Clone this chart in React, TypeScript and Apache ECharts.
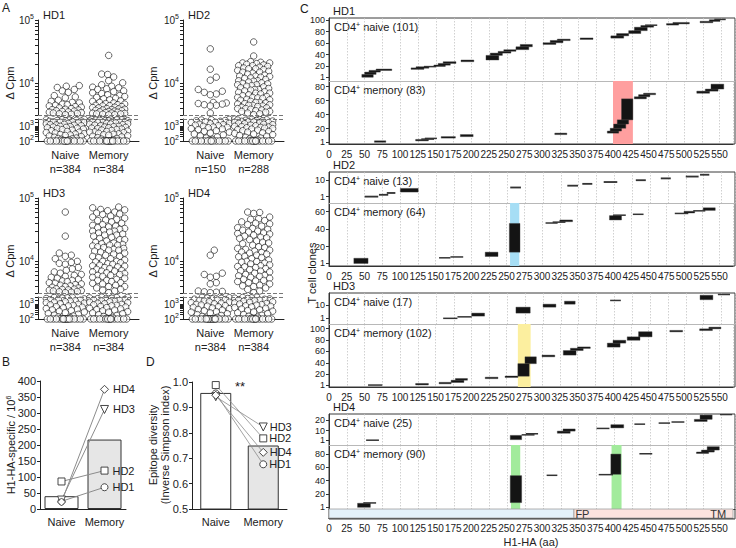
import React, { useEffect, useRef } from 'react';
import * as echarts from 'echarts';

const FONT = "'Liberation Sans', Arial, Helvetica, sans-serif";

// ---------------- Panel A: ΔCpm per well ----------------
const hd1Naive = [
  9200, 9000, 8600, 8000, 7600, 7200, 6400, 6100, 5900, 5400, 5200, 5000, 4900, 4700, 4600, 4500, 4400, 4300, 4200, 4100,
  4000, 3900, 3850, 3800, 3700, 3650, 3600, 3550, 3500, 3450, 3400, 3350, 3300, 3250, 3200,
  3000, 2900, 2800, 2700, 2600, 2500, 2400, 2300, 2200, 2100, 2000, 1900, 1800, 1700, 1600, 1500, 1400, 1300, 1250, 1200,
  1100, 1000, 950, 900, 850, 800, 750, 700, 650, 600, 550, 500, 450, 400, 380, 350, 320, 300, 280, 260, 240, 220, 200,
  180, 160, 150, 140, 130, 120, 110,
  100, 100, 100, 100, 100, 100, 100, 100, 100, 100, 100, 100, 100, 100, 100, 100,
];
const hd1Memory = [
  27600, 14000, 13800, 12600, 11000, 10200, 9500, 9000, 8700, 8500, 8200, 8000, 7600, 7400, 7100, 6900, 6600, 6400, 6200, 6000,
  5800, 5700, 5500, 5300, 5200, 5000, 4900, 4800, 4700, 4600, 4500, 4450, 4400, 4300, 4200, 4150, 4100, 4000, 3950, 3900,
  3850, 3800, 3750, 3700, 3650, 3600, 3550, 3500, 3450, 3400, 3380, 3350, 3300, 3280, 3250, 3200, 3180,
  3100, 3000, 2900, 2850, 2800, 2700, 2600, 2500, 2450, 2400, 2300, 2200, 2100, 2000, 1900, 1850, 1800, 1700, 1600, 1500,
  1450, 1400, 1300, 1200, 1100, 1000, 950, 900, 850, 800, 750, 700, 650, 600, 560, 520, 480, 450, 420, 400, 370, 340, 310,
  290, 270, 250, 230, 210, 190, 170, 150, 135, 120, 110,
  100, 100, 100, 100, 100, 100, 100, 100, 100, 100, 100, 100, 100, 100, 100, 100, 100, 100,
];
const hd2Naive = [
  35000, 16700, 12500, 11200, 8000, 7500, 7200, 6800, 6600, 5000, 4900, 4800, 4700, 4600, 4500, 4400, 3400,
  3000, 2800, 2700, 2500, 2400, 2200, 2000, 1900, 1800, 1600, 1500, 1400, 1300, 1200, 1100, 1000, 900, 850, 800, 700,
  650, 600, 500, 450, 400, 350, 300, 260, 220, 190, 160, 130, 115,
  100, 100, 100, 100, 100, 100, 100, 100, 100, 100, 100, 100, 100, 100,
];
const hd2Memory = [
  45000, 27000, 22000, 21500, 21000, 21000, 20500, 20000, 19500, 19000, 19000, 18500, 18000, 17500, 17000, 17000, 16500,
  16000, 15500, 15000, 15000, 14500, 14000, 13500, 13000, 13000, 12800, 12500, 12200, 12000, 11500, 11000, 11000, 10800,
  10500, 10200, 10000, 9800, 9500, 9500, 9200, 9000, 8800, 8500, 8300, 8000, 8000, 7800, 7600, 7400, 7200, 7000, 7000,
  6800, 6600, 6400, 6200, 6000, 6000, 5900, 5800, 5600, 5500, 5400, 5200, 5000, 5000, 4900, 4800, 4700, 4600, 4500, 4500,
  4400, 4300, 4200, 4100, 4000, 4000, 3900, 3800, 3700, 3600, 3600, 3500, 3400, 3300, 3200,
  3100, 3000, 2900, 2800, 2700, 2600, 2500, 2400, 2300, 2200, 2100, 2000, 1900, 1800, 1700, 1600, 1500, 1400, 1300, 1200,
  1100, 1000, 950, 900, 850, 800, 750, 700, 650, 600, 550, 500, 450, 400, 360, 330, 300, 270, 240, 210, 180, 160, 140, 120, 110,
  100, 100, 100, 100, 100, 100, 100, 100, 100, 100, 100, 100, 100, 100, 100, 100,
];
const hd3Naive = [
  60000, 25000, 13500, 12500, 12000, 11000, 10000, 9600, 9300, 9000, 8000, 7600, 7200, 6800, 6500, 6200, 6000, 5800, 5600,
  5400, 5200, 5000, 4900, 4800, 4600, 4500, 4400, 4300, 4200, 4100, 4000, 3900, 3800, 3700, 3650, 3600, 3550, 3500, 3450,
  3400, 3350, 3300, 3250, 3200,
  3050, 2950, 2800, 2650, 2500, 2350, 2200, 2050, 1900, 1750, 1600, 1500, 1400, 1300, 1200, 1100, 1000, 920, 850, 780, 700,
  640, 580, 520, 470, 420, 380, 340, 300, 270, 240, 210, 185, 160, 140, 125, 110,
  100, 100, 100, 100, 100, 100, 100, 100, 100, 100, 100, 100, 100, 100, 100, 100, 100, 100,
];
const hd3Memory = [
  72000, 70000, 66000, 65000, 63000, 60000, 58000, 56000, 55000, 52000, 50000, 48000, 46000, 45000, 44000, 42000, 40000,
  38000, 37000, 36000, 35000, 34000, 33000, 32000, 31000, 30000, 30000, 29000, 28000, 27000, 26000, 26000, 25000, 24000,
  23000, 22000, 22000, 21000, 20000, 19500, 19000, 18500, 18000, 18000, 17500, 17000, 16500, 16000, 15500, 15000, 15000,
  14500, 14000, 13500, 13000, 12500, 12000, 12000, 11500, 11000, 10500, 10000, 10000, 9800, 9500, 9200, 9000, 8700, 8500,
  8400, 8200, 8000, 7700, 7500, 7200, 7000, 7000, 6800, 6600, 6400, 6200, 6000, 6000, 5800, 5600, 5400, 5200, 5000, 5000,
  4800, 4600, 4500, 4400, 4200, 4000, 4000, 3800, 3600, 3500, 3400, 3200,
  3100, 3000, 2900, 2750, 2600, 2450, 2300, 2150, 2000, 1850, 1700, 1600, 1500, 1400, 1300, 1200, 1100, 1000, 930, 860, 790,
  720, 660, 600, 540, 490, 440, 400, 360, 320, 290, 260, 230, 200, 175, 150, 130, 115,
  100, 100, 100, 100, 100, 100, 100, 100, 100, 100, 100, 100, 100, 100, 100, 100,
];
const hd4Naive = [
  15000, 12500, 6500, 6200, 5800, 5600, 4600, 4400, 3400, 3350, 3300, 3250, 3200,
  3000, 2850, 2700, 2550, 2400, 2250, 2100, 1950, 1800, 1650, 1500, 1400, 1300, 1200, 1100, 1000, 900, 820, 750, 680, 620,
  560, 500, 450, 400, 360, 320, 290, 260, 230, 200, 175, 150, 130, 115,
  100, 100, 100, 100, 100, 100, 100, 100, 100, 100, 100, 100, 100, 100, 100, 100, 100, 100, 100, 100,
];
const hd4Memory = [
  60000, 59000, 57000, 50000, 47000, 46000, 44000, 42000, 40000, 39000, 38000, 36000, 34000, 33000, 32000, 31000, 30000,
  29000, 28000, 27500, 27000, 26000, 25000, 24000, 23500, 23000, 22000, 21000, 20000, 19500, 19000, 18000, 17000, 16500,
  16000, 15500, 15000, 14500, 14000, 13800, 13500, 13000, 12500, 12000, 11800, 11500, 11000, 10500, 10000, 9900, 9700,
  9400, 9100, 8800, 8500, 8300, 8200, 8000, 7700, 7400, 7100, 7000, 6800, 6500, 6200, 6000, 5900, 5800, 5600, 5400, 5200,
  5000, 4900, 4800, 4600, 4400, 4200, 4100, 4000, 3800, 3600, 3400, 3200,
  3100, 2950, 2800, 2650, 2500, 2350, 2200, 2050, 1900, 1750, 1600, 1480, 1360, 1250, 1150, 1050, 960, 880, 800, 730, 660,
  600, 540, 480, 430, 380, 340, 300, 265, 235, 205, 180, 155, 135, 118,
  100, 100, 100, 100, 100, 100, 100, 100, 100, 100, 100, 100, 100, 100, 100, 100,
];
const aTitles = ['HD1', 'HD2', 'HD3', 'HD4'];
const aNaiveN = [384, 150, 384, 384];
const aMemoryN = [384, 288, 384, 384];

// ---------------- Panel B ----------------
const donors = ['HD1', 'HD2', 'HD3', 'HD4'];
const cellTypes = ['Naive', 'Memory'];
const bNaive = [24, 86, 28, 22];
const bMemory = [68, 120, 311, 374];
const bBars = [40, 217];

// ---------------- Panel D ----------------
const dNaive = [0.955, 0.988, 0.942, 0.948];
const dMemory = [0.676, 0.778, 0.823, 0.723];
const dBars = [0.957, 0.75];

// ---------------- Panel C: clone groups [start aa, end aa, clones] ----------------
const hd1NaiveClones = [
  [46, 62, 5], [50, 66, 4], [56, 72, 3], [66, 88, 2],
  [115, 133, 2], [122, 140, 2], [133, 150, 1],
  [147, 163, 2], [153, 170, 3], [160, 178, 3],
  [185, 203, 3], [220, 238, 8], [226, 243, 4], [237, 255, 3], [245, 262, 3],
  [262, 280, 5], [268, 285, 4], [300, 318, 3], [310, 328, 4], [320, 338, 2], [352, 370, 2],
  [395, 413, 4], [403, 420, 4], [420, 437, 5], [428, 446, 6], [437, 455, 3], [443, 460, 1],
  [473, 490, 2], [482, 505, 2], [520, 538, 2], [533, 548, 3], [540, 556, 1],
];
const hd1MemoryClones = [
  [64, 80, 2], [122, 140, 2], [130, 148, 1], [135, 152, 1], [158, 178, 2], [185, 203, 3], [318, 335, 2],
  [392, 408, 3], [396, 412, 4], [401, 418, 6], [406, 422, 6], [412, 428, 30],
  [430, 447, 3], [436, 452, 3], [443, 460, 2], [518, 536, 3], [530, 548, 3], [538, 556, 7],
];
const hd2NaiveClones = [
  [50, 69, 1], [70, 83, 1], [81, 93, 1], [100, 125, 2], [254, 269, 1], [334, 349, 1], [355, 369, 1],
  [385, 404, 1], [430, 444, 1], [465, 479, 1], [500, 518, 1], [520, 533, 1],
];
const hd2MemoryClones = [
  [35, 55, 6], [155, 171, 1], [171, 189, 1], [220, 238, 5], [254, 269, 33], [305, 322, 1], [315, 333, 1],
  [325, 343, 2], [395, 412, 5], [400, 418, 1], [428, 443, 1], [487, 506, 1], [500, 515, 2], [513, 530, 1], [527, 544, 3],
];
const hd3NaiveClones = [
  [160, 180, 1], [180, 200, 1], [200, 218, 2], [262, 282, 4], [300, 318, 2], [330, 345, 2], [394, 409, 1],
  [520, 538, 3], [545, 562, 1],
];
const hd3MemoryClones = [
  [55, 75, 1], [122, 140, 2], [155, 172, 2], [172, 190, 4], [178, 195, 3], [220, 238, 2], [248, 266, 2],
  [266, 282, 22], [276, 292, 12], [300, 318, 3], [330, 348, 8], [340, 358, 4], [350, 368, 2],
  [392, 410, 7], [400, 418, 5], [420, 438, 6], [436, 455, 9], [480, 498, 2], [522, 540, 3], [535, 552, 3],
];
const hd4NaiveClones = [
  [52, 70, 1], [254, 270, 4], [270, 288, 1], [276, 293, 1], [320, 338, 2], [328, 345, 2], [375, 393, 1],
  [395, 413, 3], [428, 443, 1], [462, 478, 1], [480, 498, 1], [512, 530, 2], [520, 537, 4], [548, 565, 1],
];
const hd4MemoryClones = [
  [40, 58, 6], [48, 66, 1], [254, 270, 40], [305, 320, 1], [378, 398, 1], [395, 409, 30], [435, 453, 1],
  [515, 532, 2], [522, 540, 3], [530, 547, 5],
];
const hd1Highlights = [[400, 428]];
const hd2Highlights = [[255, 268]];
const hd3Highlights = [[266, 284]];
const hd4Highlights = [[255, 268], [396, 410]];
const cNaiveCounts = [101, 13, 17, 25];
const cMemoryCounts = [83, 64, 102, 90];
const cNaiveTicks = [[1, 20, 40, 60, 80, 100], [1, 10], [1, 10], [1, 10, 20]];
const cMemoryTicks = [[1, 20, 40, 60, 80], [1, 20, 40, 60], [1, 20, 40, 60, 80, 100], [1, 20, 40, 60, 80]];
const domains = [[0, 345], [345, 569]];
const domainLabels: [number, string][] = [[347, 'FP'], [537, 'TM']];

// ---------------- helpers ----------------
function swarm(ys: number[], diam: number, maxW: number): number[] {
  const order = ys.map((_, i) => i).sort((a, b) => ys[a] - ys[b] || a - b);
  const placed: number[][] = [];
  const out = new Array(ys.length).fill(0);
  const cands = [0];
  for (let k = 1; k <= maxW; k++) cands.push(k, -k);
  for (const i of order) {
    const y = ys[i];
    const near = placed.filter((p) => Math.abs(p[1] - y) < diam);
    let pick = 0, bestD = -1;
    for (const c of cands) {
      let m = Infinity;
      for (const p of near) {
        const d = Math.hypot(p[0] - c, p[1] - y);
        if (d < m) m = d;
      }
      if (m >= diam) { pick = c; bestD = Infinity; break; }
      if (m > bestD) { bestD = m; pick = c; }
    }
    out[i] = pick;
    placed.push([pick, y]);
  }
  return out;
}

function stackClones(groups: number[][]) {
  let r = 0;
  return groups.map(([s, e, n]) => {
    const d = [s, e, r, n];
    r += n;
    return d;
  });
}

function buildOption() {
  const grid: any[] = [], xAxis: any[] = [], yAxis: any[] = [], series: any[] = [], graphic: any[] = [];
  const addGrid = (g: any, x: any, y: any) => {
    grid.push(g);
    const i = grid.length - 1;
    xAxis.push({ gridIndex: i, ...x });
    yAxis.push({ gridIndex: i, ...y });
    return i;
  };
  const txt = (text: string, x: number, y: number, opts: any = {}) => {
    const { rotation, ...style } = opts;
    graphic.push({
      type: 'text', x, y, rotation: rotation || 0, silent: true,
      style: { text, fontFamily: FONT, fontSize: 11, fill: '#1a1a1a', align: 'left', verticalAlign: 'middle', ...style },
    });
  };
  const ink = '#222';

  // ---------- Panel A ----------
  const A_XMIN = 0.37, A_XMAX = 2.7, A_W = 101;
  const UP_MIN = 3.5, UP_MAX = 5, LO_MIN = 2, LO_MAX = 3.5;
  const UP_H = 95, LO_H = 22, A_GAP = 4;
  const aPos = [[38, 20], [183, 20], [38, 198], [183, 198]];
  const aData = [[hd1Naive, hd1Memory], [hd2Naive, hd2Memory], [hd3Naive, hd3Memory], [hd4Naive, hd4Memory]];
  const upTicks: number[] = [3.5];
  for (let d = 3; d <= 4; d++) for (let m = 1; m <= 9; m++) {
    const v = Math.log10(m * Math.pow(10, d));
    if (v > 3.5 && v <= 5.0001) upTicks.push(v);
  }
  upTicks.push(5);
  const loTicks: number[] = [];
  for (let d = 2; d <= 3; d++) for (let m = 1; m <= 9; m++) {
    const v = Math.log10(m * Math.pow(10, d));
    if (v <= 3.5) loTicks.push(v);
  }
  loTicks.push(3.5);
  const supRich = {
    b: { fontSize: 10, lineHeight: 14, color: ink, fontFamily: FONT },
    s: { fontSize: 7, lineHeight: 8, verticalAlign: 'top', color: ink, fontFamily: FONT },
  };
  const supFmt = (v: number) => `{b|10}{s|${Math.round(v)}}`;
  const dashLine = {
    silent: true, symbol: 'none', label: { show: false },
    lineStyle: { type: [4, 2], color: '#777', width: 1 },
    data: [{ yAxis: 3.5 }],
  };
  const circleStyle = { color: '#fff', borderColor: '#111', borderWidth: 0.8 };

  aData.forEach((cols, k) => {
    const [left, top] = aPos[k];
    const pxPerX = A_W / (A_XMAX - A_XMIN);
    const ui = addGrid(
      { left, top, width: A_W, height: UP_H },
      { type: 'value', min: A_XMIN, max: A_XMAX, show: false },
      {
        type: 'value', min: UP_MIN, max: UP_MAX,
        axisLine: { show: true, onZero: false, lineStyle: { color: ink } },
        axisTick: { show: true, length: 3, customValues: upTicks, lineStyle: { color: ink } },
        axisLabel: { customValues: [4, 5], formatter: supFmt, rich: supRich, margin: 4, showMinLabel: true, showMaxLabel: true },
        splitLine: { show: false },
      },
    );
    const nN = aNaiveN[k], nM = aMemoryN[k];
    const li = addGrid(
      { left, top: top + UP_H + A_GAP, width: A_W, height: LO_H },
      {
        type: 'value', min: A_XMIN, max: A_XMAX,
        axisLine: { show: true, onZero: false, lineStyle: { color: ink } },
        axisTick: { show: false },
        axisLabel: {
          customValues: [1, 2], fontSize: 11, lineHeight: 14, margin: 7, color: ink,
          formatter: (v: number) => (Math.round(v) === 1 ? `Naive\nn=${nN}` : `Memory\nn=${nM}`),
        },
        splitLine: { show: false },
      },
      {
        type: 'value', min: LO_MIN, max: LO_MAX,
        axisLine: { show: true, onZero: false, lineStyle: { color: ink } },
        axisTick: { show: true, length: 3, customValues: loTicks, lineStyle: { color: ink } },
        axisLabel: { customValues: [2, 3], formatter: supFmt, rich: supRich, margin: 4, showMinLabel: true, showMaxLabel: true },
        splitLine: { show: false },
      },
    );
    const up: number[][] = [], lo: number[][] = [];
    cols.forEach((vals, ci) => {
      const center = ci + 1;
      const logs = vals.map((v) => Math.log10(v));
      const ul = logs.filter((l) => l >= UP_MIN);
      const ll = logs.filter((l) => l < UP_MIN);
      const uo = swarm(ul.map((l) => ((l - UP_MIN) * UP_H) / (UP_MAX - UP_MIN)), 6, 16);
      const lOff = swarm(ll.map((l) => ((l - LO_MIN) * LO_H) / (LO_MAX - LO_MIN)), 6, 19);
      ul.forEach((l, i) => up.push([center + uo[i] / pxPerX, l]));
      ll.forEach((l, i) => lo.push([center + lOff[i] / pxPerX, l]));
    });
    series.push({
      type: 'scatter', xAxisIndex: ui, yAxisIndex: ui, data: up, symbolSize: 6.5, clip: false,
      itemStyle: circleStyle, markLine: dashLine, silent: true,
    });
    series.push({
      type: 'scatter', xAxisIndex: li, yAxisIndex: li, data: lo, symbolSize: 6.5, clip: false,
      itemStyle: circleStyle, markLine: dashLine, silent: true,
    });
    txt(aTitles[k], left + 5, top - 5);
    txt('\u0394 Cpm', k % 2 === 0 ? 10 : 153, top + 63, { rotation: Math.PI / 2, align: 'center' });
  });

  // ---------- Panel B ----------
  const symbols = ['circle', 'rect', 'triangle', 'diamond'];
  const symSizes = [7, 7, 8, 8];
  const catX = {
    type: 'category', data: cellTypes,
    axisLine: { show: true, lineStyle: { color: ink } }, axisTick: { show: false },
    axisLabel: { fontSize: 11, color: ink, margin: 7, interval: 0 },
  };
  const bi = addGrid(
    { left: 40, top: 381, width: 86, height: 128 },
    catX,
    {
      type: 'value', min: 0, max: 400, interval: 50,
      axisLine: { show: true, lineStyle: { color: ink } }, axisTick: { show: true, length: 3 },
      axisLabel: { fontSize: 11, color: ink, margin: 4 }, splitLine: { show: false },
    },
  );
  series.push({
    type: 'bar', xAxisIndex: bi, yAxisIndex: bi, barWidth: 34, silent: true,
    data: bBars.map((v, i) => ({ value: v, itemStyle: { color: i === 0 ? '#fff' : '#e6e6e6' } })),
    itemStyle: { borderColor: '#333', borderWidth: 1 },
  });
  donors.forEach((d, i) => {
    series.push({
      type: 'line', xAxisIndex: bi, yAxisIndex: bi, silent: true, z: 4,
      data: [bNaive[i], { value: bMemory[i], label: { show: true, position: 'right', formatter: d, fontSize: 11, color: ink, distance: 4 } }],
      symbol: symbols[i], symbolSize: symSizes[i], symbolRotate: i === 2 ? 180 : 0, showSymbol: true,
      lineStyle: { color: '#8c8c8c', width: 1 },
      itemStyle: { color: '#fff', borderColor: '#333', borderWidth: 0.9 },
    });
  });
  txt('B', 2, 362, { fontSize: 12 });
  txt('H1-HA-specific / 10{s|6}', 11, 445, {
    rotation: Math.PI / 2, align: 'center',
    rich: { s: { fontSize: 7, lineHeight: 8, verticalAlign: 'top', fontFamily: FONT, fill: '#1a1a1a' } },
    lineHeight: 13,
  });

  // ---------- Panel D ----------
  const di = addGrid(
    { left: 192, top: 382, width: 95, height: 127 },
    catX,
    {
      type: 'value', min: 0.5, max: 1.0, interval: 0.1,
      axisLine: { show: true, lineStyle: { color: ink } }, axisTick: { show: true, length: 3 },
      axisLabel: { fontSize: 11, color: ink, margin: 4, formatter: (v: number) => v.toFixed(1) },
      splitLine: { show: false },
    },
  );
  series.push({
    type: 'bar', xAxisIndex: di, yAxisIndex: di, barWidth: 31, silent: true,
    data: dBars.map((v, i) => ({ value: v, itemStyle: { color: i === 0 ? '#fff' : '#e6e6e6' } })),
    itemStyle: { borderColor: '#333', borderWidth: 1 },
  });
  donors.forEach((d, i) => {
    series.push({
      type: 'line', xAxisIndex: di, yAxisIndex: di, silent: true, z: 4,
      data: [dNaive[i], { value: dMemory[i], label: { show: true, position: 'right', formatter: d, fontSize: 11, color: ink, distance: 2 } }],
      symbol: symbols[i], symbolSize: symSizes[i], symbolRotate: i === 2 ? 180 : 0, showSymbol: true,
      lineStyle: { color: '#8c8c8c', width: 0.8 },
      itemStyle: { color: '#fff', borderColor: '#333', borderWidth: 0.9 },
    });
  });
  txt('D', 146, 362, { fontSize: 12 });
  txt('**', 240, 386, { fontSize: 13, align: 'center' });
  txt('Epitope diversity', 153, 445, { rotation: Math.PI / 2, align: 'center' });
  txt('(Inverse Simpson index)', 165, 445, { rotation: Math.PI / 2, align: 'center' });

  // ---------- Panel C ----------
  const C_LEFT = 329, C_W = 406, C_XMIN = 0, C_XMAX = 569;
  const cLayout = [
    { top: 18, sep: 81, bottom: 144, frameBottom: 144, nY: [-6, 103.5], mY: [-2, 88] },
    { top: 172, sep: 203, bottom: 266, frameBottom: 266, nY: [-2.5, 14.5], mY: [-2.4, 70] },
    { top: 293, sep: 324, bottom: 387, frameBottom: 387, nY: [-2.8, 18], mY: [-2.4, 108] },
    { top: 414, sep: 445, bottom: 509, frameBottom: 519, nY: [-3.5, 25.5], mY: [-2, 93] },
  ];
  const cData = [
    [hd1NaiveClones, hd1MemoryClones, hd1Highlights],
    [hd2NaiveClones, hd2MemoryClones, hd2Highlights],
    [hd3NaiveClones, hd3MemoryClones, hd3Highlights],
    [hd4NaiveClones, hd4MemoryClones, hd4Highlights],
  ];
  const hlColors = ['#ff9f9f', '#a6def5', '#fcef9f', '#a2eb9c'];
  const cx = (labels: boolean, lineColor: string, split: boolean) => ({
    type: 'value', min: C_XMIN, max: C_XMAX, interval: 25,
    axisLine: { show: true, onZero: false, lineStyle: { color: lineColor, width: 1 } },
    axisTick: { show: false },
    axisLabel: {
      show: labels, fontSize: 10, color: ink, margin: 5,
      formatter: (v: number) => (v % 25 === 0 ? String(v) : ''),
    },
    splitLine: { show: split, lineStyle: { type: [1.5, 1.5], color: '#c4c4c4', width: 0.8 } },
  });
  const cy = (range: number[], ticks: number[]) => ({
    type: 'value', min: range[0], max: range[1],
    axisLine: { show: true, onZero: false, lineStyle: { color: '#333' } },
    axisTick: { show: true, length: 3, customValues: ticks, lineStyle: { color: '#333' } },
    axisLabel: {
      customValues: ticks, fontSize: 9, lineHeight: 8, color: ink, margin: 4,
      showMinLabel: true, showMaxLabel: true, hideOverlap: false,
    },
    splitLine: { show: false },
  });
  const cloneRender = (params: any, api: any) => {
    const s = api.value(0), e = api.value(1), r0 = api.value(2), n = api.value(3);
    const a = api.coord([s, r0 + 0.5]);
    const b = api.coord([e, r0 + n + 0.5]);
    const h = Math.max(a[1] - b[1], 1.5);
    const yc = (a[1] + b[1]) / 2;
    return {
      type: 'rect',
      shape: { x: a[0], y: yc - h / 2, width: b[0] - a[0], height: h },
      style: { fill: n > 1 ? '#141414' : '#333', stroke: n > 1 ? '#3c3c3c' : null, lineWidth: 0.4 },
    };
  };
  cData.forEach(([naive, memory, hl], k) => {
    const L = cLayout[k];
    addGrid(
      { left: C_LEFT, top: L.top, width: C_W, height: L.frameBottom - L.top, show: true, borderColor: '#3a3a3a', borderWidth: 1, backgroundColor: 'rgba(0,0,0,0)' },
      { type: 'value', min: 0, max: 1, show: false },
      { type: 'value', min: 0, max: 1, show: false },
    );
    const ni = addGrid(
      { left: C_LEFT, top: L.top, width: C_W, height: L.sep - L.top },
      cx(false, '#b8b8b8', true),
      cy(L.nY, cNaiveTicks[k]),
    );
    const isLast = k === 3;
    const mi = addGrid(
      { left: C_LEFT, top: L.sep, width: C_W, height: L.bottom - L.sep },
      cx(!isLast, '#333', true),
      cy(L.mY, cMemoryTicks[k]),
    );
    series.push({
      type: 'custom', xAxisIndex: mi, yAxisIndex: mi, z: 1, silent: true,
      data: (hl as number[][]).map((h) => [h[0], h[1], 0]),
      encode: { x: [0, 1], y: 2 },
      renderItem: (params: any, api: any) => {
        const cs = params.coordSys;
        const a = api.coord([api.value(0), 0]);
        const b = api.coord([api.value(1), 0]);
        return { type: 'rect', shape: { x: a[0], y: cs.y, width: b[0] - a[0], height: cs.height }, style: { fill: hlColors[k] } };
      },
    });
    [[ni, naive], [mi, memory]].forEach(([gi, groups]: any) => {
      series.push({
        type: 'custom', xAxisIndex: gi, yAxisIndex: gi, z: 3, silent: true, clip: true,
        data: stackClones(groups), encode: { x: [0, 1], y: 2 }, renderItem: cloneRender,
      });
    });
    txt(`HD${k + 1}`, 333, L.top - 7);
    const rich = { s: { fontSize: 7, lineHeight: 8, verticalAlign: 'top', fontFamily: FONT, fill: '#1a1a1a' } };
    txt(`CD4{s|+} naive (${cNaiveCounts[k]})`, 334, L.top + 9, { rich, lineHeight: 13 });
    txt(`CD4{s|+} memory (${cMemoryCounts[k]})`, 334, L.sep + 9, { rich, lineHeight: 13 });
    if (isLast) {
      const dgi = addGrid(
        { left: C_LEFT, top: L.bottom, width: C_W, height: L.frameBottom - L.bottom },
        { ...cx(true, '#333', false), name: 'H1-HA (aa)', nameLocation: 'middle', nameGap: 18, nameTextStyle: { fontSize: 11, color: ink } },
        { type: 'value', min: 0, max: 1, show: false },
      );
      const dColors = ['#e4f1fa', '#fbe3df'];
      series.push({
        type: 'custom', xAxisIndex: dgi, yAxisIndex: dgi, z: 2, silent: true,
        data: domains.map((d) => [d[0], d[1], 0]), encode: { x: [0, 1], y: 2 },
        renderItem: (params: any, api: any) => {
          const cs = params.coordSys;
          const a = api.coord([api.value(0), 0]);
          const b = api.coord([api.value(1), 0]);
          return {
            type: 'rect', shape: { x: a[0], y: cs.y, width: b[0] - a[0], height: cs.height },
            style: { fill: dColors[params.dataIndex], stroke: '#a0a0a0', lineWidth: 0.8 },
          };
        },
      });
      series.push({
        type: 'custom', xAxisIndex: dgi, yAxisIndex: dgi, z: 3, silent: true,
        data: domainLabels.map((d) => [d[0], 0.5]), encode: { x: 0, y: 1 },
        renderItem: (params: any, api: any) => {
          const a = api.coord([api.value(0), api.value(1)]);
          return {
            type: 'text', x: a[0], y: a[1],
            style: { text: domainLabels[params.dataIndex][1], fontSize: 11, fontFamily: FONT, fill: '#333', align: 'left', verticalAlign: 'middle' },
          };
        },
      });
    }
  });
  txt('C', 300, 9, { fontSize: 12 });
  txt('T cell clones', 312, 273, { rotation: Math.PI / 2, align: 'center' });
  txt('A', 2, 8, { fontSize: 12 });

  return {
    animation: false,
    backgroundColor: '#fff',
    textStyle: { fontFamily: FONT },
    grid, xAxis, yAxis, series, graphic,
  };
}

export default function App() {
  const ref = useRef<HTMLDivElement>(null);
  useEffect(() => {
    const chart = echarts.init(ref.current as HTMLDivElement, undefined, { renderer: 'svg' });
    chart.setOption(buildOption() as any);
    return () => chart.dispose();
  }, []);
  return (
    <div
      ref={ref}
      style={{ position: 'fixed', left: 0, top: 0, width: 736, height: 548, background: '#fff' }}
    />
  );
}
